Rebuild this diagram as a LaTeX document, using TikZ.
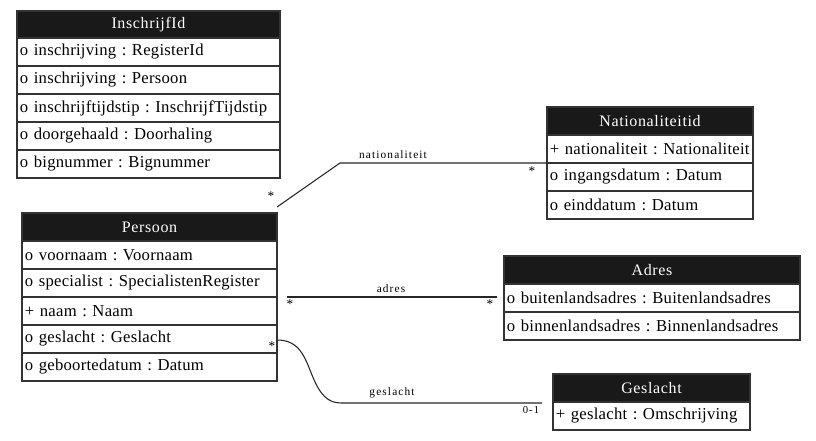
\documentclass[tikz,border=0pt]{standalone}
\usepackage{fontspec}
\setmainfont{Liberation Serif}[LetterSpace=4]
\newfontfamily\rowfont{Liberation Serif}[LetterSpace=1.5]
\newfontfamily\lblfont{Liberation Serif}[LetterSpace=10]
\newfontfamily\starfont{Liberation Serif}
\frenchspacing
\begin{document}
\begin{tikzpicture}[x=0.75pt,y=-0.75pt,
  every node/.style={inner sep=0pt, outer sep=0pt},
  hdr/.style={draw=black!80, line width=0.9pt, fill=black!90, text=white, anchor=north west,
    minimum height=21pt, text width=#1, align=center, font=\fontsize{12}{14}\selectfont},
  row/.style={draw=black!80, line width=0.9pt, fill=white, anchor=north west,
    minimum height=21pt, text width=#1, inner xsep=2.2pt, align=left, font=\rowfont\fontsize{12.5}{15}\selectfont},
  conn/.style={draw=black!85, line width=0.8pt},
  lbl/.style={font=\lblfont\fontsize{8.5}{10}\selectfont},
  mult/.style={font=\starfont\fontsize{10}{11}\selectfont},
  multn/.style={font=\lblfont\fontsize{8}{9}\selectfont}]
\useasboundingbox (0,0) rectangle (816,441);
% InschrijfId  x=17 W=263px=197.25pt
\node[hdr=197.25pt] (ins) at (17,11) {InschrijfId};
\node[row=192.85pt] (ins1) at (17,38) {o inschrijving : RegisterId};
\node[row=192.85pt] (ins2) at (17,66) {o inschrijving : Persoon};
\node[row=192.85pt] (ins3) at (17,94) {\mbox{o inschrijftijdstip : InschrijfTijdstip}};
\node[row=192.85pt] (ins4) at (17,122) {o doorgehaald : Doorhaling};
\node[row=192.85pt] (ins5) at (17,150) {o bignummer : Bignummer};
% Persoon x=22 W=255px=191.25pt
\node[hdr=191.25pt] (per) at (22,213) {Persoon};
\node[row=186.85pt] (per1) at (22,241) {o voornaam : Voornaam};
\node[row=186.85pt] (per2) at (22,269) {\mbox{o specialist : SpecialistenRegister}};
\node[row=186.85pt] (per3) at (22,297) {+ naam : Naam};
\node[row=186.85pt] (per4) at (22,325) {o geslacht : Geslacht};
\node[row=186.85pt] (per5) at (22,353) {o geboortedatum : Datum};
% Nationaliteitid x=547 W=206px=154.5pt
\node[hdr=154.5pt] (nat) at (547,107) {Nationaliteitid};
\node[row=150.1pt] (nat1) at (547,135) {\mbox{+ nationaliteit : Nationaliteit}};
\node[row=150.1pt] (nat2) at (547,163) {o ingangsdatum : Datum};
\node[row=150.1pt] (nat3) at (547,191) {o einddatum : Datum};
% Adres x=504 W=296px=222pt
\node[hdr=222pt] (adr) at (504,256) {Adres};
\node[row=217.6pt] (adr1) at (504,284) {\mbox{o buitenlandsadres : Buitenlandsadres}};
\node[row=217.6pt] (adr2) at (504,312) {\mbox{o binnenlandsadres : Binnenlandsadres}};
% Geslacht x=553 W=197px=147.75pt
\node[hdr=147.75pt] (ges) at (553,374) {Geslacht};
\node[row=143.35pt] (ges1) at (553,402) {+ geslacht : Omschrijving};
% connector anchors
\coordinate (n0) at (277,207);
\coordinate (n1) at (340,163);
\coordinate (a0) at (287,297);
\coordinate (a1) at (497,297);
\coordinate (g0) at (277,340);
\coordinate (g1) at (341,403);
\coordinate (g2) at (542,403);
% nationaliteit
\draw[conn] (n0) -- (n1) -- (nat1.south west);
\node[lbl] (nl) at (393,155) {nationaliteit};
\node[mult] (ns1) at (271,196) {*};
\node[mult] (ns2) at (532,171) {*};
% adres
\draw[conn] (a0) -- (a1);
\node[lbl] (al) at (391,289) {adres};
\node[mult] (as1) at (290,304) {*};
\node[mult] (as2) at (490,304) {*};
% geslacht
\draw[conn] (g0) .. controls (300,340) and (305,358) .. (312,375) .. controls (320,395) and (328,403) .. (g1) -- (g2);
\node[lbl] (gl) at (392,393) {geslacht};
\node[mult] (gs1) at (272,346) {*};
\node[multn] (gs2) at (531,410) {0-1};
\end{tikzpicture}
\end{document}
